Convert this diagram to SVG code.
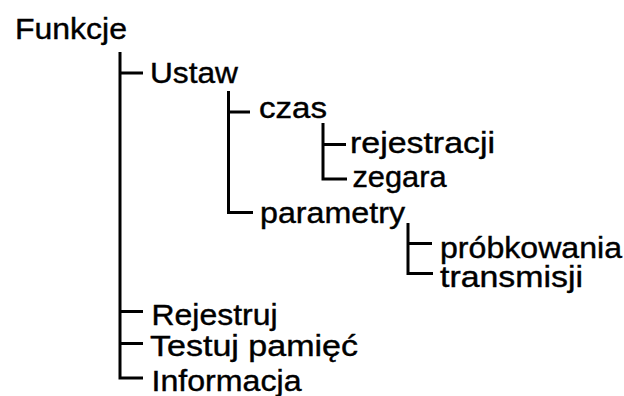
<svg xmlns="http://www.w3.org/2000/svg" width="624" height="396" viewBox="0 0 624 396">
<style>
  text { font-family: "Liberation Sans", Arial, sans-serif; font-size: 29px; fill: #000; stroke: #000; stroke-width: 0.4; }
  .c { fill: none; stroke: #000; stroke-width: 3; stroke-linecap: butt; stroke-linejoin: miter; }
</style>
<rect width="624" height="396" fill="#fff"/>
<g id="connectors">
  <path class="c" d="M120 52 V378 H143 M120 73 H143 M120 311.5 H143 M120 343.5 H143"/>
  <path class="c" d="M228.5 91 V212.5 H253 M228.5 112 H250"/>
  <path class="c" d="M323 123 V179 H347 M323 144.5 H346"/>
  <path class="c" d="M408 223 V273.5 H433 M408 243.5 H432"/>
</g>
<g id="n-funkcje"><text x="15" y="38.5" textLength="112" lengthAdjust="spacingAndGlyphs">Funkcje</text></g>
<g id="n-ustaw"><text x="150" y="83" textLength="88" lengthAdjust="spacingAndGlyphs">Ustaw</text></g>
<g id="n-czas"><text x="259" y="117.5" textLength="68" lengthAdjust="spacingAndGlyphs">czas</text></g>
<g id="n-rejestracji"><text x="350" y="153" textLength="145" lengthAdjust="spacingAndGlyphs">rejestracji</text></g>
<g id="n-zegara"><text x="352.5" y="187" textLength="94" lengthAdjust="spacingAndGlyphs">zegara</text></g>
<g id="n-parametry"><text x="260" y="223" textLength="145" lengthAdjust="spacingAndGlyphs">parametry</text></g>
<g id="n-probkowania"><text x="440" y="258" textLength="182" lengthAdjust="spacingAndGlyphs">próbkowania</text></g>
<g id="n-transmisji"><text x="440" y="287" textLength="143" lengthAdjust="spacingAndGlyphs">transmisji</text></g>
<g id="n-rejestruj"><text x="151.5" y="325" textLength="126" lengthAdjust="spacingAndGlyphs">Rejestruj</text></g>
<g id="n-testuj"><text x="150" y="355.5" textLength="208" lengthAdjust="spacingAndGlyphs">Testuj pamięć</text></g>
<g id="n-informacja"><text x="151.5" y="391" textLength="150" lengthAdjust="spacingAndGlyphs">Informacja</text></g>
</svg>
